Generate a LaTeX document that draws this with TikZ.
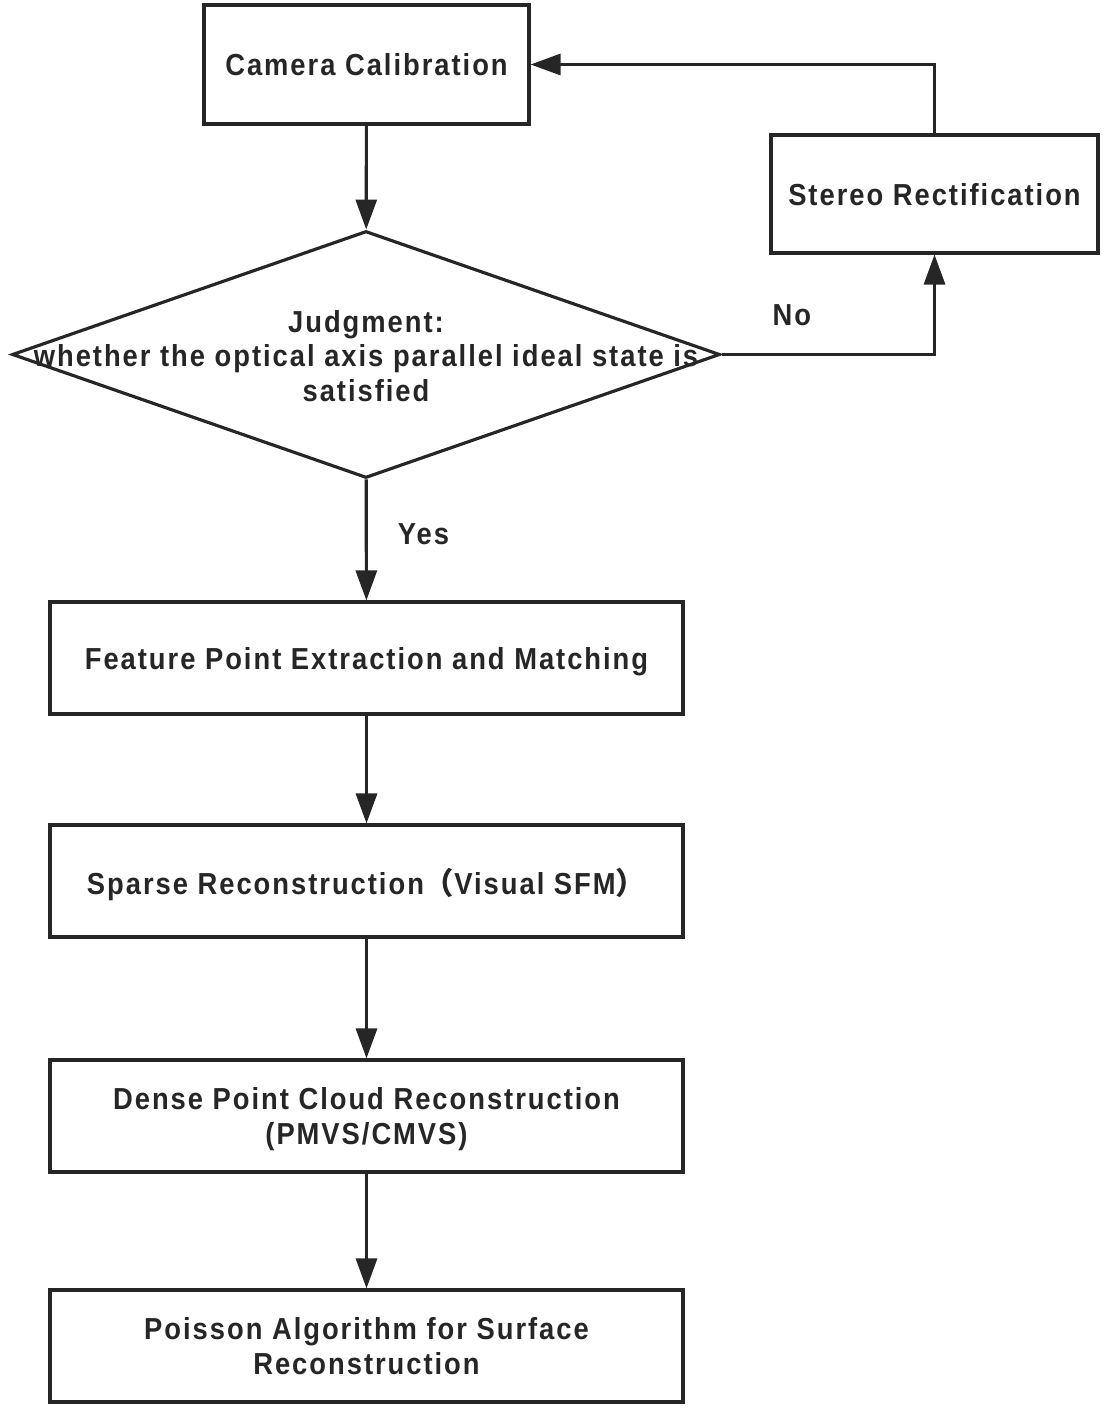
\documentclass[tikz,border=0pt]{standalone}
\usepackage{fontspec}
\setmainfont{Liberation Sans}[FakeStretch=0.9,LetterSpace=6.5]
\newfontfamily\cjk{Noto Sans CJK SC}
\usetikzlibrary{shapes.geometric,arrows.meta}
\definecolor{ink}{RGB}{38,38,38}
\begin{document}
\begin{tikzpicture}
		[	x=0.02cm,y=-0.02cm,
		box/.style={rectangle,draw=ink,line width=1.8pt,minimum width=12.66cm,minimum height=2.24cm,
			font=\fontsize{17.3pt}{19.6pt}\selectfont\bfseries,text=ink,align=center,text depth=0pt},
		decision/.style={diamond,draw=ink,line width=1.8pt,minimum width=14.16cm,minimum height=4.94cm,inner sep=0pt},
		plain/.style={draw=none,fill=none,inner sep=0pt,text=ink,align=center,
			font=\fontsize{17.3pt}{19.6pt}\selectfont\bfseries},
		arrow/.style={draw=ink,line width=1.8pt,-{Triangle[length=0.6cm,width=0.42cm]}}
		]
		\useasboundingbox (0,0) rectangle (1104,1412);

		\node[box,minimum width=6.5cm,minimum height=2.38cm] (cam) at (366.5,64.5){Camera Calibration};
		\node[box,minimum width=6.54cm,minimum height=2.36cm] (stereo) at (934.5,194){Stereo Rectification};
		\node[decision] (judge) at (366,354.5){};
		\node[plain] (judgetext) at (366,356){Judgment:\\whether the optical axis parallel ideal state is\\satisfied};
		\node[box] (feat) at (366.5,658){Feature Point Extraction and Matching};
		\node[box] (sparse) at (366.5,881){Sparse Reconstruction{\cjk （}Visual SFM{\cjk ）}};
		\node[box] (dense) at (366.5,1116){Dense Point Cloud Reconstruction\\(PMVS/CMVS)};
		\node[box] (poisson) at (366.5,1346){Poisson Algorithm for Surface\\Reconstruction};

\draw[arrow] (cam) -- (judge);
\draw[arrow] (judge) -- node[plain,pos=0.45,anchor=west,xshift=0.6cm]{Yes} (feat);
\draw[arrow] (judge.east) -| node[plain,pos=0.165,anchor=south,yshift=0.55cm]{No} (stereo);
\draw[arrow] (stereo) |- (cam);
\draw[arrow] (feat) -- (sparse);
\draw[arrow] (sparse) -- (dense);
\draw[arrow] (dense) -- (poisson);
	\end{tikzpicture}
\end{document}
